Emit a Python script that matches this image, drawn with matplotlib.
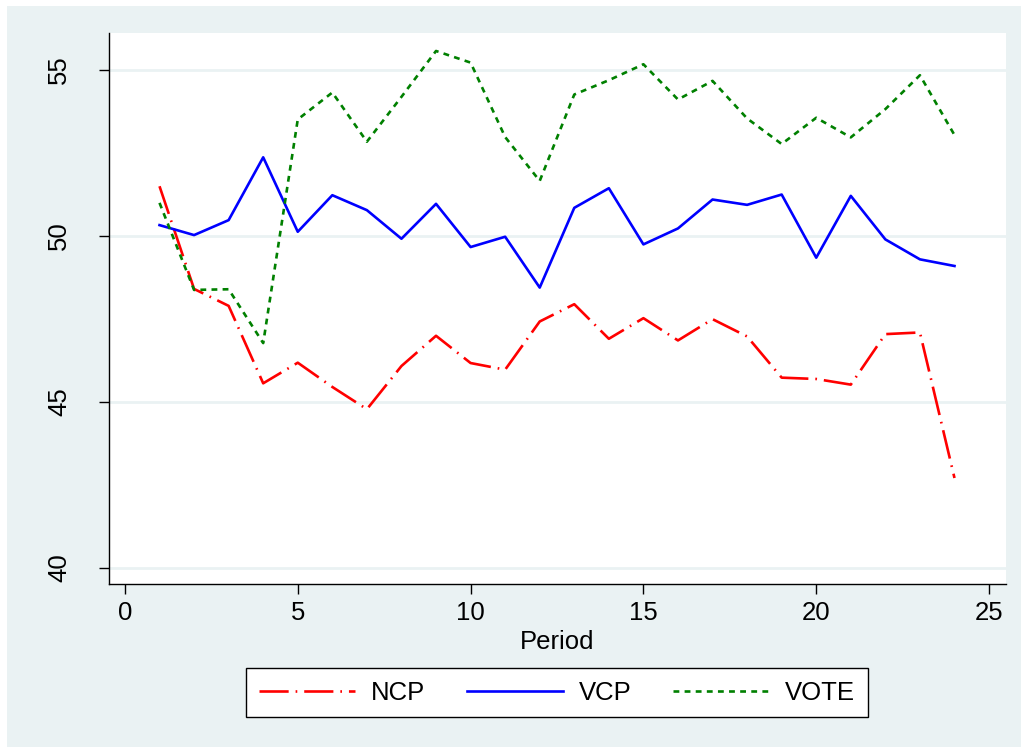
import matplotlib
matplotlib.use("Agg")
import matplotlib.pyplot as plt
from matplotlib.patches import Rectangle

period = list(range(1, 25))
ncp = [51.49, 48.4, 47.89, 45.56, 46.18, 45.45, 44.78, 46.08, 46.99, 46.17, 45.97, 47.42,
       47.94, 46.90, 47.52, 46.85, 47.49, 46.97, 45.73, 45.69, 45.52, 47.04, 47.09, 42.71]
vcp = [50.32, 50.02, 50.47, 52.36, 50.12, 51.22, 50.77, 49.91, 50.96, 49.66, 49.97, 48.44,
       50.84, 51.43, 49.74, 50.22, 51.09, 50.93, 51.24, 49.34, 51.20, 49.89, 49.29, 49.09]
vote = [50.99, 48.37, 48.39, 46.77, 53.50, 54.31, 52.83, 54.18, 55.56, 55.21, 52.97, 51.65,
        54.25, 54.68, 55.16, 54.10, 54.66, 53.53, 52.76, 53.55, 52.96, 53.81, 54.83, 53.03]
xticks = [0, 5, 10, 15, 20, 25]
yticks = [40, 45, 50, 55]

plt.rcParams['font.family'] = ['Liberation Sans', 'DejaVu Sans']
plt.rcParams['lines.scale_dashes'] = False

bg = '#EAF2F3'
fig = plt.figure(figsize=(10.21, 7.49), dpi=100, facecolor='white')
W, H = 1021.0, 749.0
fig.patches.append(Rectangle((7 / W, 2 / H), 1 - 7 / W, 1 - 8 / H, transform=fig.transFigure,
                             facecolor=bg, edgecolor='none', zorder=-10))
ax = fig.add_axes([0.1068, 0.2207, 0.8785, 0.7352])
ax.set_facecolor('white')

for y in yticks:
    ax.axhline(y, color=bg, lw=2.0, zorder=0)

l1, = ax.plot(period, ncp, color='red', lw=1.9, label='NCP')
l1.set_dashes([21, 5, 1.2, 5])
l2, = ax.plot(period, vcp, color='blue', lw=1.9, label='VCP')
l3, = ax.plot(period, vote, color='green', lw=1.9, label='VOTE')
l3.set_dashes([4.2, 3.8])

ax.set_xlim(-0.46, 25.49)
ax.set_ylim(39.53, 56.1)
ax.set_xticks(xticks)
ax.set_yticks(yticks)
ax.tick_params(axis='both', labelsize=18.5, length=7.2, width=1, color='black')
ax.tick_params(axis='x', pad=5)
ax.tick_params(axis='y', pad=20)
for lab in ax.get_yticklabels():
    lab.set_rotation(90)
    lab.set_va('center')
ax.spines['top'].set_visible(False)
ax.spines['right'].set_visible(False)
ax.spines['left'].set_linewidth(1.0)
ax.spines['bottom'].set_linewidth(1.0)
ax.set_xlabel('Period', fontsize=18.5, labelpad=4)

leg = fig.legend(handles=[l1, l2, l3], loc='center', bbox_to_anchor=(0.5456, 0.0754),
                 ncol=3, fontsize=18.5, frameon=True, fancybox=False, edgecolor='black',
                 handlelength=3.75, handletextpad=0.62, columnspacing=1.6,
                 borderpad=0.5)
leg.get_frame().set_linewidth(1.0)
leg.get_frame().set_facecolor('white')
leg.get_frame().set_alpha(1.0)

fig.savefig('out.png', dpi=100, facecolor='white')
